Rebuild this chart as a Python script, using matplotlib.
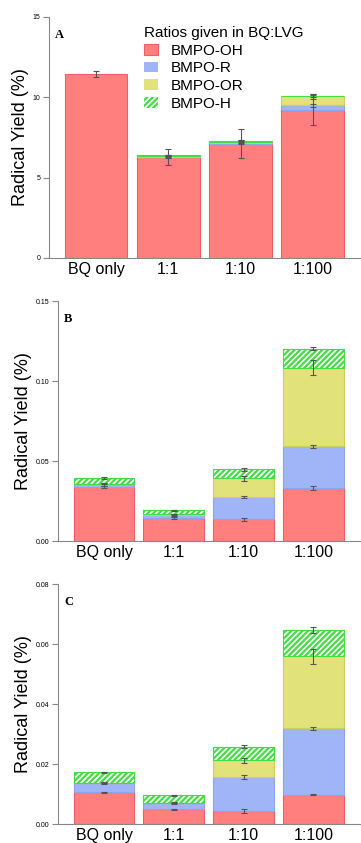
import numpy as np
import matplotlib
matplotlib.use("Agg")
import matplotlib.pyplot as plt

plt.rcParams["font.family"] = ["Liberation Sans", "DejaVu Sans"]
plt.rcParams["hatch.linewidth"] = 1.6

categories = ["BQ only", "1:1", "1:10", "1:100"]
species = ["BMPO-OH", "BMPO-R", "BMPO-OR", "BMPO-H"]

# Panel A
a_oh = [11.45, 6.28, 7.12, 9.2]
a_r = [0.0, 0.02, 0.02, 0.3]
a_or = [0.0, 0.05, 0.1, 0.55]
a_h = [0.0, 0.05, 0.06, 0.05]
a_oh_err = [0.2, 0.5, 0.9, 0.95]
a_r_err = [0.0, 0.05, 0.05, 0.1]
a_or_err = [0.0, 0.05, 0.1, 0.15]
a_h_err = [0.0, 0.03, 0.05, 0.1]

# Panel B
b_oh = [0.0338, 0.0146, 0.0136, 0.0334]
b_r = [0.0017, 0.0019, 0.0139, 0.0259]
b_or = [0.0005, 0.0003, 0.0119, 0.0492]
b_h = [0.0034, 0.0024, 0.0055, 0.0119]
b_oh_err = [0.0008, 0.0006, 0.0012, 0.0012]
b_r_err = [0.0008, 0.0006, 0.0006, 0.0008]
b_or_err = [0.0005, 0.0005, 0.0015, 0.0045]
b_h_err = [0.0005, 0.0005, 0.0008, 0.0012]

# Panel C
c_oh = [0.0106, 0.0049, 0.0043, 0.0098]
c_r = [0.0031, 0.0021, 0.0114, 0.0221]
c_or = [0.0001, 0.0001, 0.0055, 0.0241]
c_h = [0.0035, 0.0025, 0.0045, 0.0087]
c_oh_err = [0.0002, 0.0002, 0.0006, 0.0001]
c_r_err = [0.0002, 0.0003, 0.0006, 0.0004]
c_or_err = [0.0001, 0.0001, 0.0008, 0.0025]
c_h_err = [0.0002, 0.0002, 0.0005, 0.0011]

face = ["#ff7f7f", "#a0b4f8", "#e2e27a", "white"]
edge = ["#f06060", "#8fa4ee", "#cfcf60", "#44dd44"]
hatches = [None, None, None, "//////"]

fig = plt.figure(figsize=(3.61, 8.43), dpi=100)


def panel(rect, label, segs, errs, ymax, yticks, fmt, xlim):
    ax = fig.add_axes(rect)
    x = np.arange(len(categories))
    bottom = np.zeros(len(categories))
    tops = []
    handles = []
    for i, seg in enumerate(segs):
        seg = np.array(seg)
        lw = np.where(seg > 0, 0.8, 0.0)
        b = ax.bar(x, seg, 0.87, bottom=bottom, color=face[i], edgecolor=edge[i],
                   hatch=hatches[i], linewidth=lw, label=species[i])
        handles.append(b)
        bottom = bottom + seg
        tops.append(bottom.copy())
    for i, err in enumerate(errs):
        err = np.array(err)
        m = err > 0
        ax.errorbar(x[m], tops[i][m], yerr=err[m], fmt="none", ecolor="#555555",
                    elinewidth=0.8, capsize=2, capthick=0.8)
    ax.set_xlim(*xlim)
    ax.set_ylim(0, ymax)
    ax.set_yticks(yticks)
    ax.set_yticklabels([fmt.format(t) for t in yticks], fontsize=5)
    ax.set_xticks(x)
    ax.set_xticklabels(categories, fontsize=11.5)
    ax.tick_params(axis="x", length=0, pad=3)
    ax.tick_params(axis="y", direction="out", length=4, width=0.8, color="#888888", pad=2)
    for s in ["top", "right"]:
        ax.spines[s].set_visible(False)
    for s in ["left", "bottom"]:
        ax.spines[s].set_color("#888888")
        ax.spines[s].set_linewidth(0.8)
    ax.set_ylabel("Radical Yield (%)", fontsize=13, labelpad=3)
    ax.text(0.02, 0.925, label, transform=ax.transAxes, fontsize=9, fontweight="bold",
            family="Liberation Serif", va="center")
    return ax, handles


axA, hA = panel([0.1357, 0.694, 0.861, 0.286], "A", [a_oh, a_r, a_or, a_h],
                [a_oh_err, a_r_err, a_or_err, a_h_err], 15, [0, 5, 10, 15], "{:.0f}",
                (-0.65, 3.65))
panel([0.1607, 0.358, 0.8366, 0.2847], "B", [b_oh, b_r, b_or, b_h],
      [b_oh_err, b_r_err, b_or_err, b_h_err], 0.15, [0, 0.05, 0.10, 0.15], "{:.2f}",
      (-0.66, 3.67))
panel([0.1607, 0.0225, 0.8366, 0.2847], "C", [c_oh, c_r, c_or, c_h],
      [c_oh_err, c_r_err, c_or_err, c_h_err], 0.08, [0, 0.02, 0.04, 0.06, 0.08], "{:.2f}",
      (-0.66, 3.67))

axA.legend(handles=hA, labels=species, title="Ratios given in BQ:LVG", fontsize=11,
           title_fontsize=11, frameon=False, loc="upper left", alignment="left",
           bbox_to_anchor=(133 / 361, 1 - 15 / 843), bbox_transform=fig.transFigure,
           handlelength=0.95, handleheight=0.7, handletextpad=0.85, labelspacing=0.25,
           borderpad=0.2)

fig.savefig("out.png", dpi=100)
